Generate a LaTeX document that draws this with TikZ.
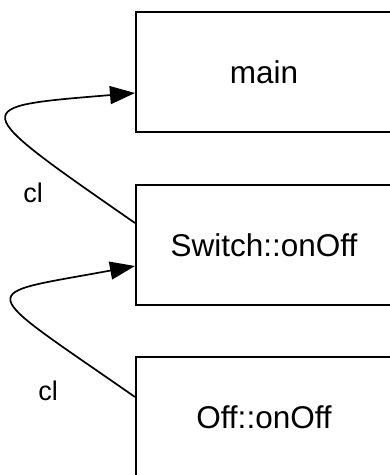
\documentclass[tikz,border=0pt]{standalone}
\usepackage{fontspec}
\setmainfont{Liberation Sans}
\usetikzlibrary{arrows.meta}
\begin{document}
\begin{tikzpicture}[x=1pt,y=1pt,
  fn/.style={draw, line width=2pt, minimum width=256pt, minimum height=120pt,
    inner sep=0pt, font=\fontsize{31.5}{36}\selectfont},
  call/.style={line width=1.7pt, -{Triangle[length=25pt,width=18pt]}},
  lbl/.style={font=\fontsize{27}{31}\selectfont}]
\useasboundingbox (0,0) rectangle (390,-475);
\clip (0,0) rectangle (390,-475);
% function boxes
\node[fn] (main) at (264,-72) {main};
\node[fn] (sw) at (264,-245) {Switch::onOff};
\node[fn] (off) at (264,-417) {Off::onOff};
% call edges
\draw[call] ([yshift=22pt]sw.west) .. controls +(-170,118) and +(-168,-14) .. ([yshift=-21pt]main.west);
\draw[call] ([yshift=20pt]off.west) .. controls +(-162,113) and +(-162,-30) .. ([yshift=-21pt]sw.west);
\node[lbl] (cl1) at (33,-193) {cl};
\node[lbl] (cl2) at (48,-391) {cl};
\end{tikzpicture}
\end{document}
